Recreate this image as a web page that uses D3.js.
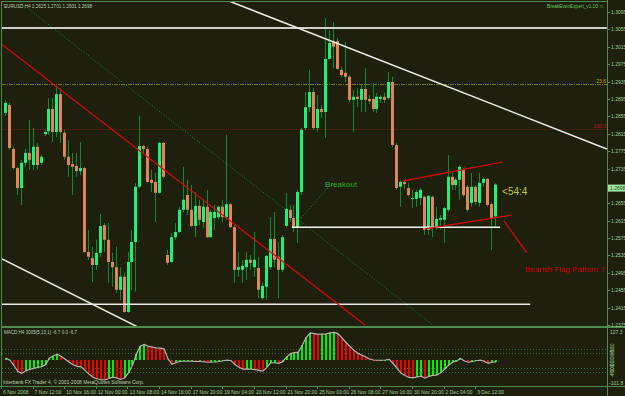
<!DOCTYPE html>
<html>
<head>
<meta charset="utf-8">
<script src="https://cdn.jsdelivr.net/npm/d3@7"></script>
<style>
body { margin: 0; background: #1f1f0d; }
svg { display: block; font-family: "Liberation Sans", Arial, sans-serif; }
</style>
</head>
<body>
<div id="chart-area"></div>
<script>
// EURUSD H4 candles, 6 Nov - 3 Dec 2008
const opens = [1.2863,1.2881,1.2780,1.2736,1.2690,1.2748,1.2771,1.2743,1.2785,1.2748,
  1.2814,1.2821,1.2872,1.2819,1.2906,1.2817,1.2762,1.2745,1.2741,1.2729,
  1.2736,1.2543,1.2529,1.2513,1.2541,1.2605,1.2571,1.2520,1.2508,1.2456,
  1.2486,1.2405,1.2520,1.2566,1.2693,1.2787,1.2780,1.2709,1.2704,1.2679,
  1.2794,1.2536,1.2520,1.2577,1.2589,1.2640,1.2674,1.2640,1.2603,1.2649,
  1.2612,1.2647,1.2577,1.2621,1.2623,1.2647,1.2623,1.2653,1.2600,1.2502,
  1.2502,1.2508,1.2525,1.2508,1.2506,1.2437,1.2463,1.2508,1.2573,1.2532,
  1.2502,1.2603,1.2640,1.2621,1.2600,1.2681,1.2828,1.2876,1.2911,1.2828,
  1.2872,1.2865,1.2987,1.3028,1.3028,1.2962,1.2955,1.2946,1.2893,1.2900,
  1.2893,1.2918,1.2895,1.2895,1.2872,1.2895,1.2900,1.2897,1.2934,1.2789,
  1.2693,1.2704,1.2690,1.2665,1.2665,1.2667,1.2670,1.2594,1.2670,1.2598,
  1.2617,1.2617,1.2640,1.2716,1.2697,1.2709,1.2732,1.2693,1.2656,1.2693,
  1.2656,1.2702,1.2711,1.2653,1.2625]
const highs = [1.2893,1.2886,1.2785,1.2739,1.2755,1.2780,1.2847,1.2828,1.2794,1.2766,
  1.2824,1.2897,1.2897,1.2922,1.2920,1.2824,1.2801,1.2771,1.2771,1.2796,
  1.2739,1.2594,1.2555,1.2571,1.2630,1.2610,1.2610,1.2541,1.2555,1.2508,
  1.2495,1.2543,1.2594,1.2702,1.2856,1.2789,1.2785,1.2732,1.2725,1.2796,
  1.2796,1.2548,1.2587,1.2610,1.2647,1.2739,1.2709,1.2697,1.2681,1.2663,
  1.2663,1.2686,1.2640,1.2651,1.2649,1.2663,1.2812,1.2656,1.2605,1.2543,
  1.2525,1.2543,1.2536,1.2589,1.2532,1.2472,1.2536,1.2623,1.2635,1.2566,
  1.2582,1.2679,1.2651,1.2651,1.2686,1.2828,1.2911,1.2962,1.2920,1.2904,
  1.2881,1.3081,1.3053,1.3072,1.3035,1.2968,1.3026,1.2950,1.2916,1.2920,
  1.2927,1.2966,1.2904,1.2932,1.2909,1.2904,1.2909,1.2957,1.2946,1.2794,
  1.2709,1.2709,1.2702,1.2686,1.2686,1.2690,1.2672,1.2674,1.2672,1.2647,
  1.2628,1.2647,1.2766,1.2725,1.2713,1.2743,1.2736,1.2697,1.2725,1.2697,
  1.2725,1.2716,1.2713,1.2656,1.2701]
const lows = [1.2856,1.2778,1.2732,1.2674,1.2651,1.2739,1.2732,1.2732,1.2732,1.2743,
  1.2810,1.2812,1.2796,1.2807,1.2794,1.2755,1.2716,1.2674,1.2716,1.2720,
  1.2541,1.2525,1.2474,1.2502,1.2532,1.2543,1.2472,1.2463,1.2449,1.2433,
  1.2403,1.2403,1.2456,1.2451,1.2690,1.2771,1.2702,1.2681,1.2612,1.2677,
  1.2713,1.2513,1.2518,1.2571,1.2587,1.2635,1.2628,1.2600,1.2577,1.2605,
  1.2598,1.2575,1.2575,1.2594,1.2617,1.2612,1.2617,1.2598,1.2472,1.2486,
  1.2472,1.2479,1.2502,1.2486,1.2437,1.2433,1.2433,1.2502,1.2508,1.2437,
  1.2497,1.2600,1.2612,1.2589,1.2564,1.2674,1.2824,1.2865,1.2824,1.2819,
  1.2851,1.2805,1.2985,1.2966,1.2962,1.2946,1.2934,1.2888,1.2819,1.2876,
  1.2865,1.2865,1.2883,1.2865,1.2863,1.2886,1.2886,1.2893,1.2785,1.2686,
  1.2647,1.2686,1.2670,1.2644,1.2647,1.2651,1.2582,1.2582,1.2577,1.2594,
  1.2594,1.2564,1.2635,1.2686,1.2686,1.2663,1.2670,1.2635,1.2647,1.2651,
  1.2647,1.2693,1.2647,1.2548,1.2601]
const closes = [1.2886,1.2782,1.2736,1.2690,1.2748,1.2771,1.2755,1.2785,1.2743,1.2762,
  1.2819,1.2872,1.2819,1.2906,1.2819,1.2762,1.2743,1.2739,1.2729,1.2736,
  1.2543,1.2532,1.2513,1.2541,1.2603,1.2571,1.2520,1.2508,1.2456,1.2486,
  1.2405,1.2520,1.2566,1.2693,1.2787,1.2780,1.2704,1.2702,1.2679,1.2794,
  1.2716,1.2518,1.2577,1.2589,1.2640,1.2663,1.2640,1.2603,1.2649,1.2617,
  1.2647,1.2577,1.2635,1.2635,1.2647,1.2623,1.2653,1.2600,1.2502,1.2508,
  1.2511,1.2525,1.2518,1.2525,1.2456,1.2465,1.2534,1.2573,1.2525,1.2502,
  1.2577,1.2642,1.2621,1.2600,1.2681,1.2824,1.2876,1.2911,1.2828,1.2872,
  1.2865,1.2987,1.3024,1.3015,1.2964,1.2950,1.2946,1.2893,1.2900,1.2895,
  1.2918,1.2893,1.2890,1.2872,1.2900,1.2900,1.2893,1.2934,1.2789,1.2690,
  1.2704,1.2699,1.2674,1.2667,1.2681,1.2686,1.2594,1.2672,1.2598,1.2619,
  1.2621,1.2644,1.2716,1.2697,1.2709,1.2739,1.2674,1.2640,1.2693,1.2658,
  1.2702,1.2711,1.2651,1.2621,1.2698]

// MACD(5,13,1) per bar
const macd = [8,0,-20,-45,-52,-42,-36,-32,-28,-25,
  -18,8,18,24,15,4,-8,-18,-24,-26,
  -40,-55,-67,-73,-77,-78,-72,-67,-70,-76,
  -70,-50,-20,25,55,62,55,52,49,48,
  45,5,-16,-10,-5,-4,-4,-4,-5,-5,
  -6,-8,-8,-7,-5,-2,0,-2,-18,-28,
  -35,-35,-35,-37,-40,-43,-28,-10,-10,-12,
  -6,12,26,30,32,60,90,108,105,102,
  103,104,108,110,105,88,71,55,40,28,
  20,14,5,1,0,0,1,3,-14,-32,
  -52,-60,-68,-70,-66,-63,-71,-64,-60,-59,
  -50,-35,-20,-8,-4,7,-3,-8,-5,-2,
  0,-4,-12,-8,-6.7]
const macdLevels = [45, 30, -30, -45]

const priceTicks = [1.3095,1.3055,1.3015,1.2975,1.2935,1.2895,1.2855,1.2815,1.2775,1.2735,
  1.2655,1.2615,1.2575,1.2535,1.2495,1.2455,1.2415,1.2375]
const dateLabels = ["6 Nov 2008","7 Nov 12:00","10 Nov 16:00","12 Nov 00:00","13 Nov 08:00",
  "14 Nov 16:00","17 Nov 20:00","19 Nov 04:00","20 Nov 12:00","21 Nov 20:00","25 Nov 00:00",
  "26 Nov 08:00","27 Nov 16:00","30 Nov 20:00","2 Dec 04:00","3 Dec 12:00"]

// drawn objects: [bar index, price] anchors
const redTrend = [[-1.27, 1.3024], [91.1, 1.2375]]
const greenDotTrend = [[3.7, 1.3118], [108.3, 1.2375]]
const upperChannel = [[55.9, 1.3123], [152.3, 1.2780]]
const lowerChannel = [[-0.76, 1.2527], [33.7, 1.2370]]
const breakoutPointer = [[74.9, 1.2621], [81.7, 1.2690]]
const neckline = [[72.6, 1.2600], [125.3, 1.2600]]
const bottomSupport = [[-0.76, 1.2423], [132.9, 1.2423]]
const topResistance = [[-0.76, 1.3058], [152.3, 1.3058]]
const flagUpper = [[100.5, 1.2706], [126.0, 1.2750]]
const flagLower = [[106.3, 1.2596], [128.3, 1.2628]]
const flagPointer = [[126.3, 1.2614], [132.1, 1.2541]]
const fibLevels = [{ label: "23.6", price: 1.2929 }, { label: "100.0", price: 1.2826 }]

const W = 625, H = 396
const FRAME = "#4e8c4e"
const AXIS_TEXT = "#96d496"

const svg = d3.select("#chart-area").append("svg")
  .attr("width", W)
  .attr("height", H)

svg.append("rect").attr("width", W).attr("height", H).attr("fill", "#1f1f0d")

const x = d3.scaleLinear().domain([0, opens.length - 1]).range([5, 495])
const y = d3.scaleLinear().domain([1.2375, 1.3095]).range([325, 12])
const yM = d3.scaleLinear().domain([-101.8, 127.3]).range([386, 328])

const defs = svg.append("defs")
defs.append("clipPath").attr("id", "clip-main")
  .append("rect").attr("x", 2).attr("y", 2).attr("width", 605).attr("height", 324)
defs.append("clipPath").attr("id", "clip-macd")
  .append("rect").attr("x", 2).attr("y", 328).attr("width", 605).attr("height", 58)

const main = svg.append("g").attr("clip-path", "url(#clip-main)")
const sub = svg.append("g").attr("clip-path", "url(#clip-macd)")

const line = d3.line().x(d => x(d[0])).y(d => y(d[1]))

// fib levels
main.selectAll(".fib").data(fibLevels).enter().append("line")
  .attr("x1", 2).attr("x2", 607)
  .attr("y1", d => Math.round(y(d.price)) + 0.5)
  .attr("y2", d => Math.round(y(d.price)) + 0.5)
  .attr("stroke", (d, i) => i == 0 ? "#6f7420" : "#6e1a10")
  .attr("stroke-dasharray", (d, i) => i == 0 ? "4,1,1,1" : "1,1")

main.append("path").attr("d", line(greenDotTrend))
  .attr("stroke", "#1a8a2a").attr("stroke-dasharray", "1,2").attr("fill", "none")
main.append("path").attr("d", line(breakoutPointer))
  .attr("stroke", "#1a8a2a").attr("stroke-dasharray", "1,2").attr("fill", "none")

// candles
const bars = d3.range(opens.length)
main.selectAll(".wick").data(bars).enter().append("line")
  .attr("x1", i => Math.round(x(i)) + 0.5)
  .attr("x2", i => Math.round(x(i)) + 0.5)
  .attr("y1", i => y(highs[i]))
  .attr("y2", i => y(lows[i]))
  .attr("stroke", "#0f8a2c")

main.selectAll(".body").data(bars).enter().append("rect")
  .attr("x", i => Math.round(x(i)) - 1)
  .attr("width", 3)
  .attr("y", i => y(Math.max(opens[i], closes[i])))
  .attr("height", i => Math.max(1, Math.abs(y(opens[i]) - y(closes[i]))))
  .attr("fill", i => closes[i] >= opens[i] ? "#1ef07c" : "#df8658")

// drawn lines
const whites = [
  { pts: topResistance, w: 2, c: "#cfcfc6" },
  { pts: upperChannel, w: 1.5, c: "#eeeeea" },
  { pts: lowerChannel, w: 1.5, c: "#eeeeea" },
  { pts: bottomSupport, w: 1.5, c: "#eeeeea" },
  { pts: neckline, w: 1.5, c: "#f4f4f0" }
]
whites.forEach(d => {
  main.append("path").attr("d", line(d.pts))
    .attr("stroke", d.c).attr("stroke-width", d.w).attr("fill", "none")
})
;[redTrend, flagUpper, flagLower, flagPointer].forEach(pts => {
  main.append("path").attr("d", line(pts))
    .attr("stroke", "#e00808").attr("stroke-width", 1.2).attr("fill", "none")
})

// annotations
main.append("text")
  .attr("x", x(81)).attr("y", y(1.2693))
  .attr("font-size", "8px").attr("fill", "#22b422")
  .text("Breakout")
main.append("text")
  .attr("x", x(125.8)).attr("y", y(1.2674))
  .attr("font-size", "10px").attr("fill", "#c2c83c")
  .text("<54:4")
main.append("text")
  .attr("x", x(131.6)).attr("y", y(1.2497))
  .attr("font-size", "8px").attr("fill", "#c80000")
  .text("Bearish Flag Pattern ?")
main.selectAll(".fib-label").data(fibLevels).enter().append("text")
  .attr("x", 606).attr("y", d => y(d.price) - 1)
  .attr("text-anchor", "end").attr("font-size", "5px")
  .attr("fill", (d, i) => i == 0 ? "#c8b400" : "#c81010")
  .text(d => d.label)

// MACD panel
sub.selectAll(".level").data(macdLevels).enter().append("line")
  .attr("x1", 2).attr("x2", 607)
  .attr("y1", d => Math.round(yM(d)) + 0.5)
  .attr("y2", d => Math.round(yM(d)) + 0.5)
  .attr("stroke", "#2f6a2f").attr("stroke-dasharray", "1,2")

sub.selectAll(".hist").data(bars).enter().append("rect")
  .attr("shape-rendering", "crispEdges")
  .attr("x", i => Math.round(x(i)))
  .attr("width", 2)
  .attr("y", i => Math.min(yM(0), yM(macd[i])))
  .attr("height", i => Math.max(1, Math.abs(yM(macd[i]) - yM(0))))
  .attr("fill", i => i > 0 && macd[i] < macd[i - 1] ? "#f00000" : "#00f000")

sub.append("path")
  .attr("d", d3.line().x((d, i) => x(i) + 1).y(d => yM(d))(macd))
  .attr("stroke", "#b4b4b4").attr("stroke-width", 1.2).attr("fill", "none")

// frame
const frame = svg.append("g").attr("stroke", FRAME).attr("fill", "none")
frame.append("line").attr("x1", 1.5).attr("x2", 1.5).attr("y1", 1).attr("y2", 387)
frame.append("line").attr("x1", 1).attr("x2", 608).attr("y1", 1.5).attr("y2", 1.5)
frame.append("line").attr("x1", 607.5).attr("x2", 607.5).attr("y1", 0).attr("y2", 396)
frame.append("line").attr("x1", 1).attr("x2", 625).attr("y1", 327).attr("y2", 327).attr("stroke-width", 2)
frame.append("line").attr("x1", 0).attr("x2", 625).attr("y1", 386.5).attr("y2", 386.5)

// price axis
const axis = svg.append("g").attr("font-size", "5px").attr("fill", AXIS_TEXT)
priceTicks.forEach(v => {
  axis.append("line").attr("x1", 607).attr("x2", 610)
    .attr("y1", Math.round(y(v)) + 0.5).attr("y2", Math.round(y(v)) + 0.5)
    .attr("stroke", FRAME)
  axis.append("text").attr("x", 611).attr("y", y(v) + 2).text(v.toFixed(4))
})
const last = closes[closes.length - 1]
axis.append("rect")
  .attr("x", 608).attr("y", y(last)).attr("width", 17).attr("height", 7)
  .attr("fill", "#9eea9e")
axis.append("text").attr("x", 610).attr("y", y(last) + 5.5)
  .attr("fill", "#1d4a1d").text(last.toFixed(4))

// MACD axis
axis.append("text").attr("x", 610).attr("y", 334).text("127.3")
axis.append("text").attr("x", 609).attr("y", 385).text("-101.8")
macdLevels.concat([0]).forEach(v => {
  axis.append("text")
    .attr("transform", `translate(614, ${yM(v) + 6}) rotate(-90)`)
    .attr("font-size", "4.5px")
    .text(v.toFixed(2))
})

// time axis
dateLabels.forEach((d, k) => {
  axis.append("line").attr("x1", Math.round(x(k * 8)) - 3.5).attr("x2", Math.round(x(k * 8)) - 3.5)
    .attr("y1", 386).attr("y2", 389).attr("stroke", FRAME)
  axis.append("text").attr("x", x(k * 8) - 2).attr("y", 393.5).text(d)
})

// headers
svg.append("text").attr("x", 4).attr("y", 8)
  .attr("font-size", "5.5px").attr("fill", "#b8d2b0")
  .attr("textLength", 88).attr("lengthAdjust", "spacingAndGlyphs")
  .text("EURUSD,H4  1.2625 1.2701 1.2601 1.2698")
svg.append("text").attr("x", 547).attr("y", 8)
  .attr("font-size", "5.5px").attr("fill", "#5fd05f")
  .attr("textLength", 57).attr("lengthAdjust", "spacingAndGlyphs")
  .text("BreakEvenExpert_v1.10 ☺")
svg.append("text").attr("x", 4).attr("y", 334)
  .attr("font-size", "5px").attr("fill", "#b8d2b0")
  .attr("textLength", 73).attr("lengthAdjust", "spacingAndGlyphs")
  .text("MACD H4 3005(5,13,1) -6.7 0.0 -6.7")
svg.append("text").attr("x", 3).attr("y", 384)
  .attr("font-size", "5px").attr("fill", "#b8d2b0")
  .attr("textLength", 141).attr("lengthAdjust", "spacingAndGlyphs")
  .text("Interbank FX Trader 4, © 2001-2008 MetaQuotes Software Corp.")
</script>
</body>
</html>
